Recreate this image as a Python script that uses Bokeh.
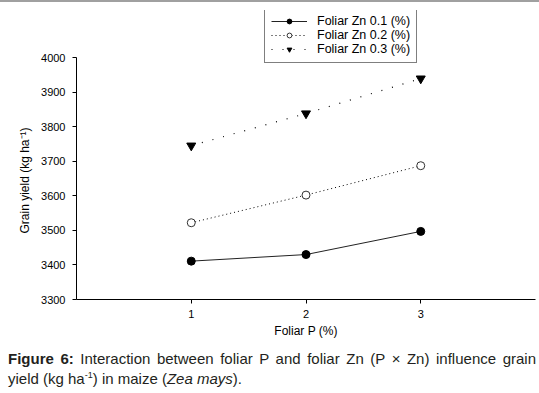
from bokeh.plotting import figure
from bokeh.models import Range1d, FixedTicker, Legend, LegendItem, Div, Title
from bokeh.layouts import column
from bokeh.embed import file_html
from bokeh.resources import INLINE

foliar_p = [1, 2, 3]
zn01 = [3411, 3430, 3497]
zn02 = [3522, 3602, 3687]
zn03 = [3745, 3838, 3939]
series_names = ["Foliar Zn 0.1 (%)", "Foliar Zn 0.2 (%)", "Foliar Zn 0.3 (%)"]
y_ticks = [3300, 3400, 3500, 3600, 3700, 3800, 3900, 4000]
x_ticks = [1, 2, 3]

FONT = "Liberation Sans"

p = figure(width=529, height=345, output_backend="svg", toolbar_location=None,
           x_range=Range1d(0, 4), y_range=Range1d(3300, 4136),
           min_border_left=67, min_border_right=2, min_border_top=2, min_border_bottom=54,
           margin=(0, 0, 0, 0))
p.outline_line_color = None
p.grid.visible = False
p.background_fill_color = "white"

r1l = p.line(foliar_p, zn01, line_color="#222222", line_width=1)
r1m = p.scatter(foliar_p, zn01, marker="circle", size=8, fill_color="black", line_color="black")
r2l = p.line(foliar_p, zn02, line_color="black", line_width=1, line_dash="1 3")
r2m = p.scatter(foliar_p, zn02, marker="circle", size=8, fill_color="white", line_color="#333333")
r3l = p.line(foliar_p, zn03, line_color="black", line_width=1.2, line_dash="1 10")
r3m = p.scatter(foliar_p, zn03, marker="inverted_triangle", size=9, fill_color="black", line_color="black")

for ax in (p.xaxis[0], p.yaxis[0]):
    ax.axis_line_color = "black"
    ax.major_tick_line_color = "black"
    ax.major_tick_in = 0
    ax.major_tick_out = 4
    ax.minor_tick_line_color = None
    ax.major_label_text_font = FONT
    ax.major_label_text_font_size = "11px"
    ax.major_label_text_color = "black"
    ax.axis_label_text_font = FONT
    ax.axis_label_text_font_style = "normal"
    ax.axis_label_text_color = "black"

p.xaxis.ticker = FixedTicker(ticks=x_ticks)
p.yaxis.ticker = FixedTicker(ticks=y_ticks)
p.yaxis.bounds = (y_ticks[0], y_ticks[-1])
p.xaxis.axis_label = "Foliar P (%)"
p.xaxis.axis_label_text_font_size = "12px"
p.xaxis.major_label_standoff = 6
p.xaxis.axis_label_standoff = 3
p.yaxis.major_label_standoff = 7

ytitle = Title(text="Grain yield (kg ha\u207b\u00b9)", align="left", offset=66,
               text_font=FONT, text_font_size="12px", text_font_style="normal",
               text_color="black", standoff=14)
p.add_layout(ytitle, "left")

legend = Legend(items=[
    LegendItem(label=series_names[0], renderers=[r1l, r1m]),
    LegendItem(label=series_names[1], renderers=[r2l, r2m]),
    LegendItem(label=series_names[2], renderers=[r3l, r3m]),
], location=(188, 236))
legend.border_line_color = "black"
legend.border_line_width = 1
legend.background_fill_color = "white"
legend.background_fill_alpha = 1
legend.label_text_font = FONT
legend.label_text_font_size = "12.5px"
legend.label_text_color = "black"
legend.padding = 6
legend.spacing = 0
legend.margin = 0
legend.label_height = 12
legend.glyph_height = 12
legend.glyph_width = 36
legend.label_standoff = 10
p.add_layout(legend, "center")

caption = Div(
    text=('<b>Figure 6:</b> Interaction between foliar P and foliar Zn (P \u00d7 Zn) influence grain '
          'yield (kg ha<sup style="font-size:9px">-1</sup>) in maize (<i>Zea mays</i>).'),
    width=528, margin=(-2, 0, 0, 0),
    styles={"font-family": FONT, "font-size": "15px", "line-height": "16px",
            "text-align": "justify", "color": "#231f20"})

topline = Div(text='<div style="position:fixed;top:0;left:0;width:100%;height:2px;background:#a0a0a0;"></div>',
              width=1, height=0, margin=(0, 0, 0, 0))

layout = column(topline, p, caption, spacing=0, margin=(8, 0, 0, 8))
open("out.html", "w").write(file_html(layout, INLINE))
